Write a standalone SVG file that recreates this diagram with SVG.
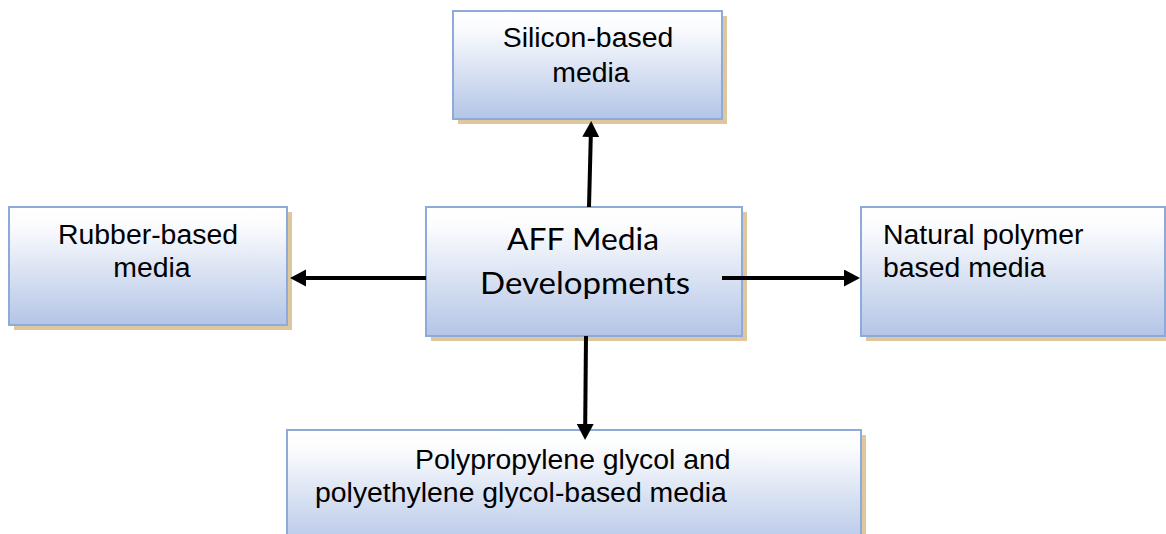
<svg xmlns="http://www.w3.org/2000/svg" width="1166" height="534" viewBox="0 0 1166 534">
<style>
.box{fill:url(#g);stroke:#8eaadb;stroke-width:2}
.sh{fill:#dfc79d}
.t{font-family:"Liberation Sans",Arial,sans-serif;font-size:28.4px;fill:#000}
.c{font-family:Lato,"Liberation Sans",sans-serif;font-size:31px;fill:#000}
.con{stroke:#000;stroke-width:4;fill:none}
</style>
<defs>
<linearGradient id="g" x1="0" y1="0" x2="0" y2="1">
<stop offset="0" stop-color="#ffffff"/>
<stop offset="0.15" stop-color="#fbfcfe"/>
<stop offset="1" stop-color="#b3c5e6"/>
</linearGradient>
<marker id="ah" markerUnits="userSpaceOnUse" markerWidth="18" markerHeight="18" refX="1" refY="8.5" orient="auto">
<path d="M0,0 L16,8.5 L0,17 Z" fill="#000"/>
</marker>
</defs>
<g id="silicon">
<rect class="sh" x="458" y="16" width="269" height="108"/>
<rect class="box" x="453" y="11" width="269" height="108"/>
<text class="t" x="588" y="47" text-anchor="middle">Silicon-based</text>
<text class="t" x="591" y="82" text-anchor="middle">media</text>
</g>
<g id="rubber">
<rect class="sh" x="14" y="212" width="278" height="118"/>
<rect class="box" x="9" y="207" width="278" height="118"/>
<text class="t" x="148" y="244" text-anchor="middle">Rubber-based</text>
<text class="t" x="152" y="277" text-anchor="middle">media</text>
</g>
<g id="center">
<rect class="sh" x="431" y="212" width="316" height="129"/>
<rect class="box" x="426" y="207" width="316" height="129"/>
<text class="c" x="583" y="250" text-anchor="middle" textLength="152" lengthAdjust="spacingAndGlyphs">AFF Media</text>
<text class="c" x="585" y="294" text-anchor="middle" textLength="210" lengthAdjust="spacingAndGlyphs">Developments</text>
</g>
<g id="natural">
<rect class="sh" x="866" y="212" width="304" height="129"/>
<rect class="box" x="861" y="207" width="304" height="129"/>
<text class="t" x="883" y="244">Natural polymer</text>
<text class="t" x="883" y="277">based media</text>
</g>
<g id="glycol">
<rect class="sh" x="292" y="435" width="574" height="120"/>
<rect class="box" x="287" y="430" width="574" height="120"/>
<text class="t" x="415" y="469">Polypropylene glycol and</text>
<text class="t" x="315" y="502">polyethylene glycol-based media</text>
</g>
<g id="connectors">
<line class="con" x1="589" y1="207" x2="590.8" y2="136" marker-end="url(#ah)"/>
<line class="con" x1="426" y1="278" x2="305" y2="278" marker-end="url(#ah)"/>
<line class="con" x1="722" y1="278" x2="845" y2="278" marker-end="url(#ah)"/>
<line class="con" x1="586" y1="336" x2="585.2" y2="425" marker-end="url(#ah)"/>
</g>
</svg>
